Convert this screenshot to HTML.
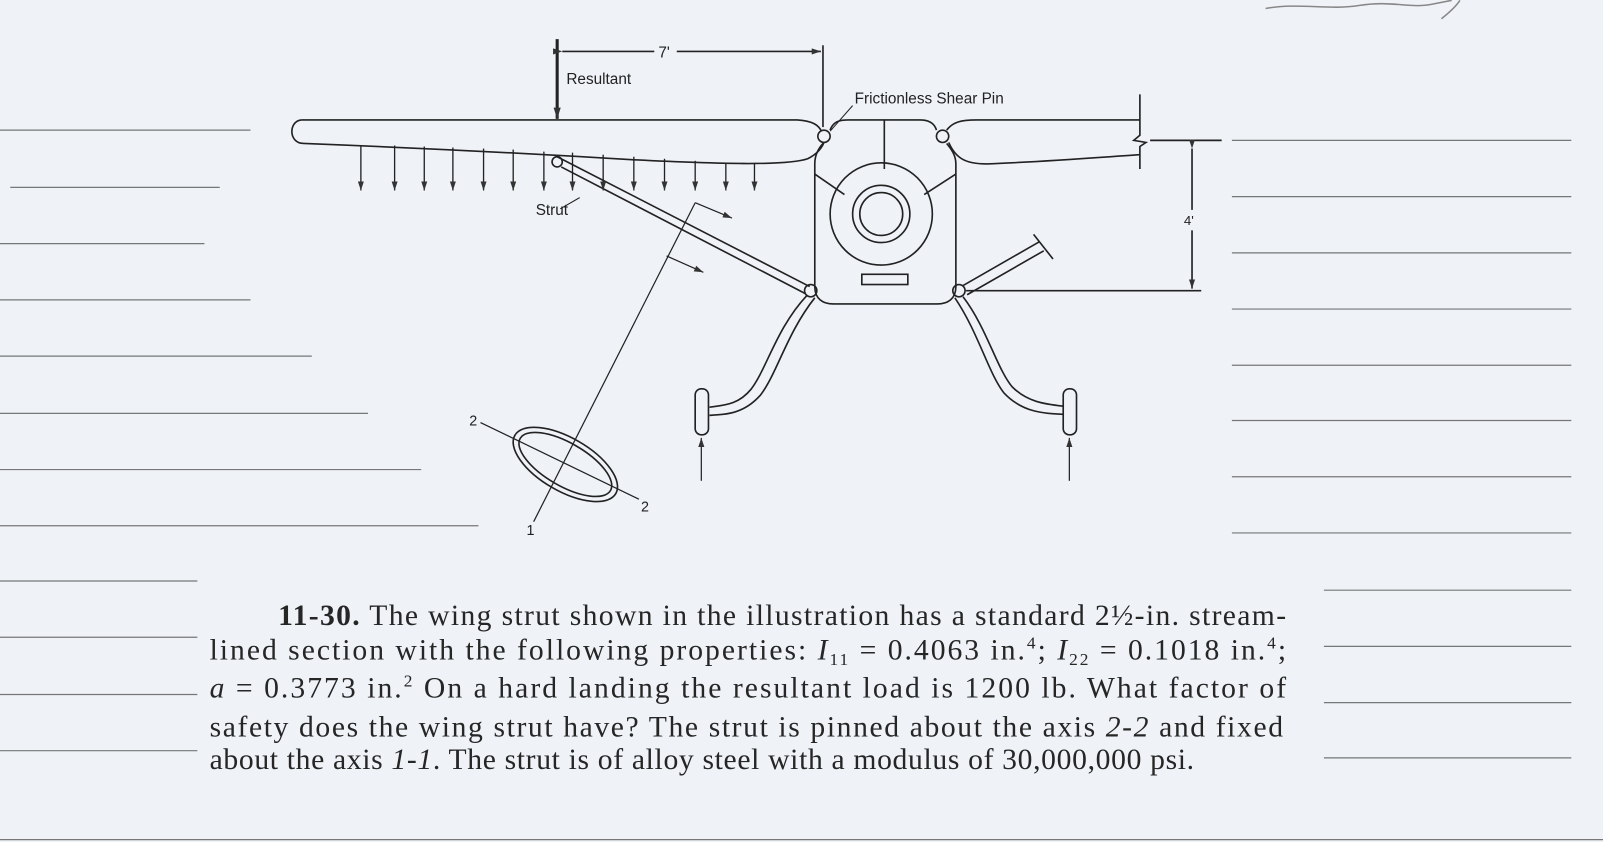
<!DOCTYPE html>
<html><head><meta charset="utf-8"><style>
html,body{margin:0;padding:0;background:#eff2f7;}
svg{display:block}
</style></head><body>
<svg width="1603" height="842" viewBox="0 0 1568 823" xmlns="http://www.w3.org/2000/svg">
<defs>
<marker id="ah" markerWidth="10" markerHeight="10" refX="9" refY="5" orient="auto" markerUnits="userSpaceOnUse"><path d="M0,2 L9,5 L0,8 Z" fill="#333"/></marker>
<marker id="ahs" markerWidth="12" markerHeight="12" refX="11" refY="6" orient="auto" markerUnits="userSpaceOnUse"><path d="M0,2.5 L11,6 L0,9.5 Z" fill="#333"/></marker>
</defs>
<rect width="1568" height="823" fill="#eff2f7"/>
<g stroke="#777" stroke-width="1.2">
<line x1="0" y1="127" x2="245" y2="127"/><line x1="10" y1="183" x2="215" y2="183"/>
<line x1="0" y1="238" x2="200" y2="238"/><line x1="0" y1="293" x2="245" y2="293"/>
<line x1="0" y1="348" x2="305" y2="348"/><line x1="0" y1="404" x2="360" y2="404"/>
<line x1="0" y1="459" x2="412" y2="459"/><line x1="0" y1="514" x2="468" y2="514"/>
<line x1="0" y1="568" x2="193" y2="568"/><line x1="0" y1="623" x2="193" y2="623"/>
<line x1="0" y1="679" x2="193" y2="679"/><line x1="0" y1="734" x2="193" y2="734"/>
<line x1="1205" y1="137" x2="1537" y2="137"/><line x1="1205" y1="192" x2="1537" y2="192"/>
<line x1="1205" y1="247" x2="1537" y2="247"/><line x1="1205" y1="302" x2="1537" y2="302"/>
<line x1="1205" y1="357" x2="1537" y2="357"/><line x1="1205" y1="411" x2="1537" y2="411"/>
<line x1="1205" y1="466" x2="1537" y2="466"/><line x1="1205" y1="521" x2="1537" y2="521"/>
<line x1="1295" y1="577" x2="1537" y2="577"/><line x1="1295" y1="632" x2="1537" y2="632"/>
<line x1="1295" y1="687" x2="1537" y2="687"/><line x1="1295" y1="741" x2="1537" y2="741"/>
<line x1="0" y1="821" x2="1568" y2="821"/>
</g>
<path d="M1238,8 C1270,2 1300,10 1330,5 S1380,8 1400,4 L1420,0 M1410,18 C1420,10 1425,5 1428,0" stroke="#888" fill="none" stroke-width="1.5"/>
<g stroke="#222" fill="none" stroke-width="1.6">
<line x1="545" y1="38" x2="545" y2="116" stroke-width="3" marker-end="url(#ahs)"/>
<line x1="550" y1="50" x2="640" y2="50" marker-start="url(#ah)"/>
<line x1="662" y1="50" x2="803" y2="50" marker-end="url(#ah)"/>
<line x1="805" y1="44" x2="805" y2="124"/>
<path d="M295,117 L780,117 C795,118 800,122 803,127"/>
<path d="M295,117 C282,118 282,140 297,140 C400,144 520,150 620,156 C700,160 770,162 790,155 C800,150 804,144 806,139"/>
<circle cx="806" cy="133" r="6"/>
<circle cx="922" cy="133" r="6"/>
<path d="M812,127 C815,118 822,117 830,117 L900,117 C908,117 914,120 916,127"/>
<path d="M806,139 C800,145 797,152 797,160 L797,280 C797,292 805,297 815,297 L917,297 C927,297 935,292 935,280 L935,160 C935,152 931,146 926,140"/>
<line x1="865" y1="117" x2="865" y2="165"/>
<line x1="797" y1="170" x2="826" y2="190"/><line x1="935" y1="170" x2="904" y2="190"/>
<circle cx="862" cy="209" r="50"/><circle cx="862" cy="209" r="28"/><circle cx="862" cy="209" r="21"/>
<rect x="843" y="268" width="45" height="10"/>
<path d="M926,127 C932,119 940,117 955,117 L1115,117"/>
<path d="M928,139 C935,155 945,160 965,160 C1020,158 1070,154 1115,151"/>
<path d="M1115,92 L1115,132 L1109,137 L1121,139 L1115,143 L1115,165"/>
<line x1="1125" y1="137" x2="1195" y2="137"/>
<line x1="945" y1="284" x2="1175" y2="284"/>
<line x1="1166" y1="145" x2="1166" y2="205" marker-start="url(#ah)"/>
<line x1="1166" y1="225" x2="1166" y2="282" marker-end="url(#ah)"/>
<path d="M545,153 L792,280 M549,163 L788,287"/>
<circle cx="545" cy="158" r="5"/>
<circle cx="793" cy="284" r="6"/>
<circle cx="938" cy="284" r="6"/>
<path d="M942,279 L1017,236 M946,288 L1021,245"/>
<line x1="1011" y1="229" x2="1030" y2="253"/>
<path d="M789,289 C760,320 750,360 735,380 C722,396 708,396 694,398"/>
<path d="M797,291 C770,325 760,365 744,386 C728,404 712,405 694,406"/>
<rect x="680" y="380" width="13" height="45" rx="6"/>
<path d="M942,290 C965,320 975,360 990,378 C1005,393 1022,395 1040,397"/>
<path d="M934,291 C957,325 967,365 982,384 C1000,403 1020,404 1040,405"/>
<rect x="1040" y="380" width="13" height="45" rx="6"/>
<line x1="686" y1="470" x2="686" y2="428" stroke-width="1.2" marker-end="url(#ah)"/>
<line x1="1046" y1="470" x2="1046" y2="428" stroke-width="1.2" marker-end="url(#ah)"/>
<line x1="680" y1="198" x2="522" y2="510" stroke-width="1.2"/>
<line x1="680" y1="198" x2="716" y2="213" stroke-width="1.2" marker-end="url(#ah)"/>
<line x1="652" y1="250" x2="688" y2="266" stroke-width="1.2" marker-end="url(#ah)"/>
<ellipse cx="553" cy="454" rx="57" ry="26" transform="rotate(30 553 454)"/>
<ellipse cx="553" cy="454" rx="51" ry="21" transform="rotate(30 553 454)"/>
<line x1="470" y1="413" x2="625" y2="488" stroke-width="1.2"/>
<line x1="567" y1="193" x2="548" y2="204" stroke-width="1"/>
<line x1="834" y1="103" x2="812" y2="128" stroke-width="1"/>
</g>
<g stroke="#222" stroke-width="1.3">
<line x1="353" y1="142" x2="353" y2="186" marker-end="url(#ah)"/>
<line x1="386" y1="142" x2="386" y2="186" marker-end="url(#ah)"/>
<line x1="415" y1="143" x2="415" y2="186" marker-end="url(#ah)"/>
<line x1="443" y1="144" x2="443" y2="186" marker-end="url(#ah)"/>
<line x1="473" y1="145" x2="473" y2="186" marker-end="url(#ah)"/>
<line x1="502" y1="146" x2="502" y2="186" marker-end="url(#ah)"/>
<line x1="532" y1="148" x2="532" y2="186" marker-end="url(#ah)"/>
<line x1="560" y1="149" x2="560" y2="186" marker-end="url(#ah)"/>
<line x1="590" y1="151" x2="590" y2="186" marker-end="url(#ah)"/>
<line x1="620" y1="153" x2="620" y2="186" marker-end="url(#ah)"/>
<line x1="650" y1="155" x2="650" y2="186" marker-end="url(#ah)"/>
<line x1="680" y1="157" x2="680" y2="186" marker-end="url(#ah)"/>
<line x1="710" y1="159" x2="710" y2="186" marker-end="url(#ah)"/>
<line x1="738" y1="160" x2="738" y2="186" marker-end="url(#ah)"/>
</g>
<g font-family="Liberation Sans, sans-serif" font-size="15" fill="#222">
<text x="554" y="82">Resultant</text>
<text x="644" y="56">7'</text>
<text x="836" y="101">Frictionless Shear Pin</text>
<text x="524" y="210">Strut</text>
<text x="1158" y="220" font-size="13">4'</text>
<text x="459" y="416" font-size="14">2</text>
<text x="627" y="500" font-size="14">2</text>
<text x="515" y="523" font-size="14">1</text>
</g>
<g font-family="Liberation Serif, serif" font-size="29" fill="#262626">
<text x="272" y="611" textLength="986" lengthAdjust="spacing"><tspan font-weight="bold">11-30.</tspan> The wing strut shown in the illustration has a standard 2½-in. stream-</text>
<text x="205" y="645" textLength="1053" lengthAdjust="spacing">lined section with the following properties: <tspan font-style="italic">I</tspan><tspan font-size="17" dy="5">11</tspan><tspan dy="-5"> = 0.4063 in.</tspan><tspan font-size="17" dy="-11">4</tspan><tspan dy="11">; </tspan><tspan font-style="italic">I</tspan><tspan font-size="17" dy="5">22</tspan><tspan dy="-5"> = 0.1018 in.</tspan><tspan font-size="17" dy="-11">4</tspan><tspan dy="11">;</tspan></text>
<text x="205" y="682" textLength="1053" lengthAdjust="spacing"><tspan font-style="italic">a</tspan> = 0.3773 in.<tspan font-size="17" dy="-11">2</tspan><tspan dy="11"> On a hard landing the resultant load is 1200 lb. What factor of</tspan></text>
<text x="205" y="720" textLength="1050" lengthAdjust="spacing">safety does the wing strut have? The strut is pinned about the axis <tspan font-style="italic">2-2</tspan> and fixed</text>
<text x="205" y="752" textLength="963" lengthAdjust="spacing">about the axis <tspan font-style="italic">1-1</tspan>. The strut is of alloy steel with a modulus of 30,000,000 psi.</text>
</g>
</svg>
</body></html>
